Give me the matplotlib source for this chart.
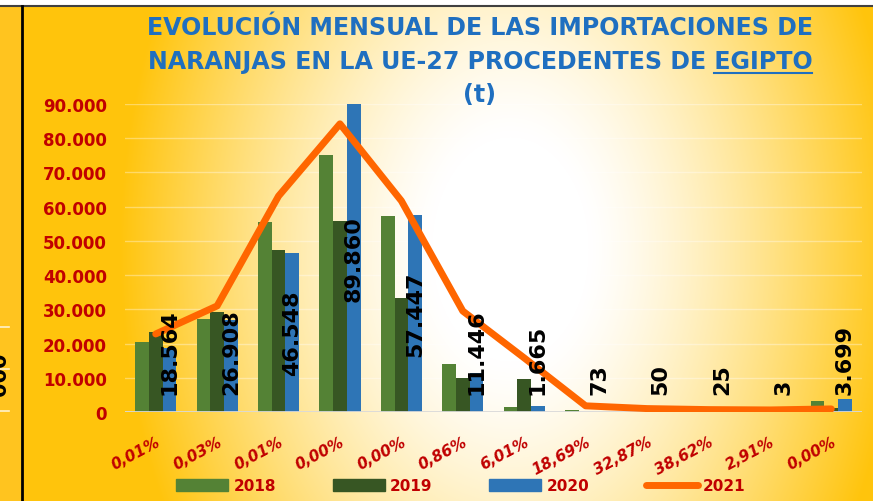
import numpy as np
import matplotlib.pyplot as plt
from matplotlib.lines import Line2D
from matplotlib.patches import Patch, Rectangle

W, H = 873, 502

pct_labels = ['0,01%', '0,03%', '0,01%', '0,00%', '0,00%', '0,86%',
              '6,01%', '18,69%', '32,87%', '38,62%', '2,91%', '0,00%']
y2018 = [20500, 27200, 55400, 75100, 57200, 13900, 1500, 700, 0, 0, 0, 3100]
y2019 = [23500, 29300, 47400, 55800, 33200, 10000, 9600, 0, 0, 0, 0, 1200]
y2020 = [18564, 26908, 46548, 89860, 57447, 11446, 1665, 73, 50, 25, 3, 3699]
y2021 = [22800, 31000, 63100, 84200, 61700, 29500, 15800, 1800, 1000, 700, 600, 900]
series_names = ['2018', '2019', '2020', '2021']

RED = '#C00000'
BLUE_T = '#1F6FC0'
c18, c19, c20, c21 = '#548235', '#375623', '#2E75B6', '#FF6600'

fig = plt.figure(figsize=(W / 100, H / 100), dpi=100)

# fondo degradado radial
bg = fig.add_axes([0, 0, 1, 1], zorder=-10)
xx, yy = np.meshgrid(np.arange(W), np.arange(H))
r = np.sqrt(((xx - 510) / 390) ** 2 + ((yy - 250) / 560) ** 2)
t = np.clip((r - 0.2) / 0.8, 0, 1) ** 1.3
yellow = np.array([1.0, 0.77, 0.05])
img = (1 - t)[..., None] * np.ones(3) + t[..., None] * yellow
bg.imshow(img, extent=(0, W, H, 0), aspect='auto')
bg.set_xlim(0, W)
bg.set_ylim(H, 0)
bg.axis('off')
# franja izquierda (otro grafico) y bordes
bg.add_patch(Rectangle((0, 0), 22, H, color='#FFC41F'))
bg.add_patch(Rectangle((0, 0), W, 6, color='white'))
bg.plot([0, W], [6.5, 6.5], color='#404040', lw=1.5)
bg.plot([22, 22], [6.5, H], color='black', lw=2)
for gy in [328, 370, 412]:
    bg.plot([0, 9], [gy, gy], color='#FFF2CC', lw=1.2)
bg.text(0, 374, '000', rotation=90, ha='center', va='center', fontsize=15,
        weight='bold', color='black')

ax = fig.add_axes([125 / W, 1 - 413 / H, (862 - 125) / W, (413 - 105) / H])
ax.patch.set_alpha(0)
x = np.arange(12)
w = 0.223
ax.bar(x - w, y2018, w, color=c18, zorder=2)
ax.bar(x, y2019, w, color=c19, zorder=2)
ax.bar(x + w, y2020, w, color=c20, zorder=2)
ax.plot(x, y2021, color=c21, lw=5, solid_capstyle='round',
        solid_joinstyle='round', zorder=3)
ax.set_xlim(-0.5, 11.5)
ax.set_ylim(0, 90000)
for s in ax.spines.values():
    s.set_visible(False)
ax.axhline(0, color='#D9D9D9', lw=2, zorder=2.5)
ax.yaxis.grid(True, color='white', alpha=0.35, lw=1)
ax.set_axisbelow(True)

yt = list(range(0, 90001, 10000))
ax.set_yticks(yt)
ax.set_yticklabels([f'{v:,}'.replace(',', '.') for v in yt],
                   color=RED, fontsize=12, weight='bold')
ax.tick_params(axis='y', length=0, pad=13)
ax.set_xticks(x)
ax.set_xticklabels(pct_labels, rotation=28, ha='right', rotation_mode='anchor',
                   color=RED, fontsize=11, weight='bold', style='italic')
ax.tick_params(axis='x', length=0, pad=16)

labels = []
for xi, v in zip(x, y2020):
    tx = ax.text(xi + w, v / 2, f'{v:,}'.replace(',', '.'), rotation=90,
                 ha='center', va='center', fontsize=16, weight='bold',
                 color='black', zorder=4)
    labels.append(tx)

# titulo
t1 = fig.text(480 / W, 1 - 28.5 / H, 'EVOLUCIÓN MENSUAL DE LAS IMPORTACIONES DE',
              ha='center', va='center', fontsize=16, weight='bold', color=BLUE_T)
t2 = fig.text(480 / W, 1 - 61.5 / H, 'NARANJAS EN LA UE-27 PROCEDENTES DE EGIPTO',
              ha='center', va='center', fontsize=16, weight='bold', color=BLUE_T)
t3 = fig.text(479 / W, 1 - 95 / H, '(t)', ha='center', va='center',
              fontsize=16, weight='bold', color=BLUE_T)

fig.canvas.draw()
ren = fig.canvas.get_renderer()
fs = 16 * 665 / t1.get_window_extent(ren).width
for tt in (t1, t2, t3):
    tt.set_fontsize(fs)

# etiquetas: no bajar de la base
ylow = 90000 * (413 - 395) / (413 - 105)
fig.canvas.draw()
for tx in labels:
    bb = tx.get_window_extent(ren)
    y0 = ax.transData.inverted().transform((bb.x0, bb.y0))[1]
    if y0 < ylow:
        tx.set_va('bottom')
        tx.set_y(ylow)

# subrayado de EGIPTO
tmp = fig.text(0, 0, 'EGIPTO', fontsize=fs, weight='bold')
fig.canvas.draw()
ew = tmp.get_window_extent(ren).width
tmp.remove()
bb2 = t2.get_window_extent(ren)
uy = 1 - 74 / H
fig.add_artist(Line2D([(bb2.x1 - ew) / W, bb2.x1 / W], [uy, uy],
                      transform=fig.transFigure, color=BLUE_T, lw=1.5))

handles = [Patch(color=c18), Patch(color=c19), Patch(color=c20),
           Line2D([0], [0], color=c21, lw=5, solid_capstyle='round')]
leg = fig.legend(handles, series_names, loc='center',
                 bbox_to_anchor=(461 / W, 1 - 487 / H), ncol=4, frameon=False,
                 handlelength=3.4, handleheight=0.8, handletextpad=0.35,
                 columnspacing=3.7, prop=dict(weight='bold', size=11))
for txt in leg.get_texts():
    txt.set_color(RED)

fig.savefig('out.png', dpi=100)
